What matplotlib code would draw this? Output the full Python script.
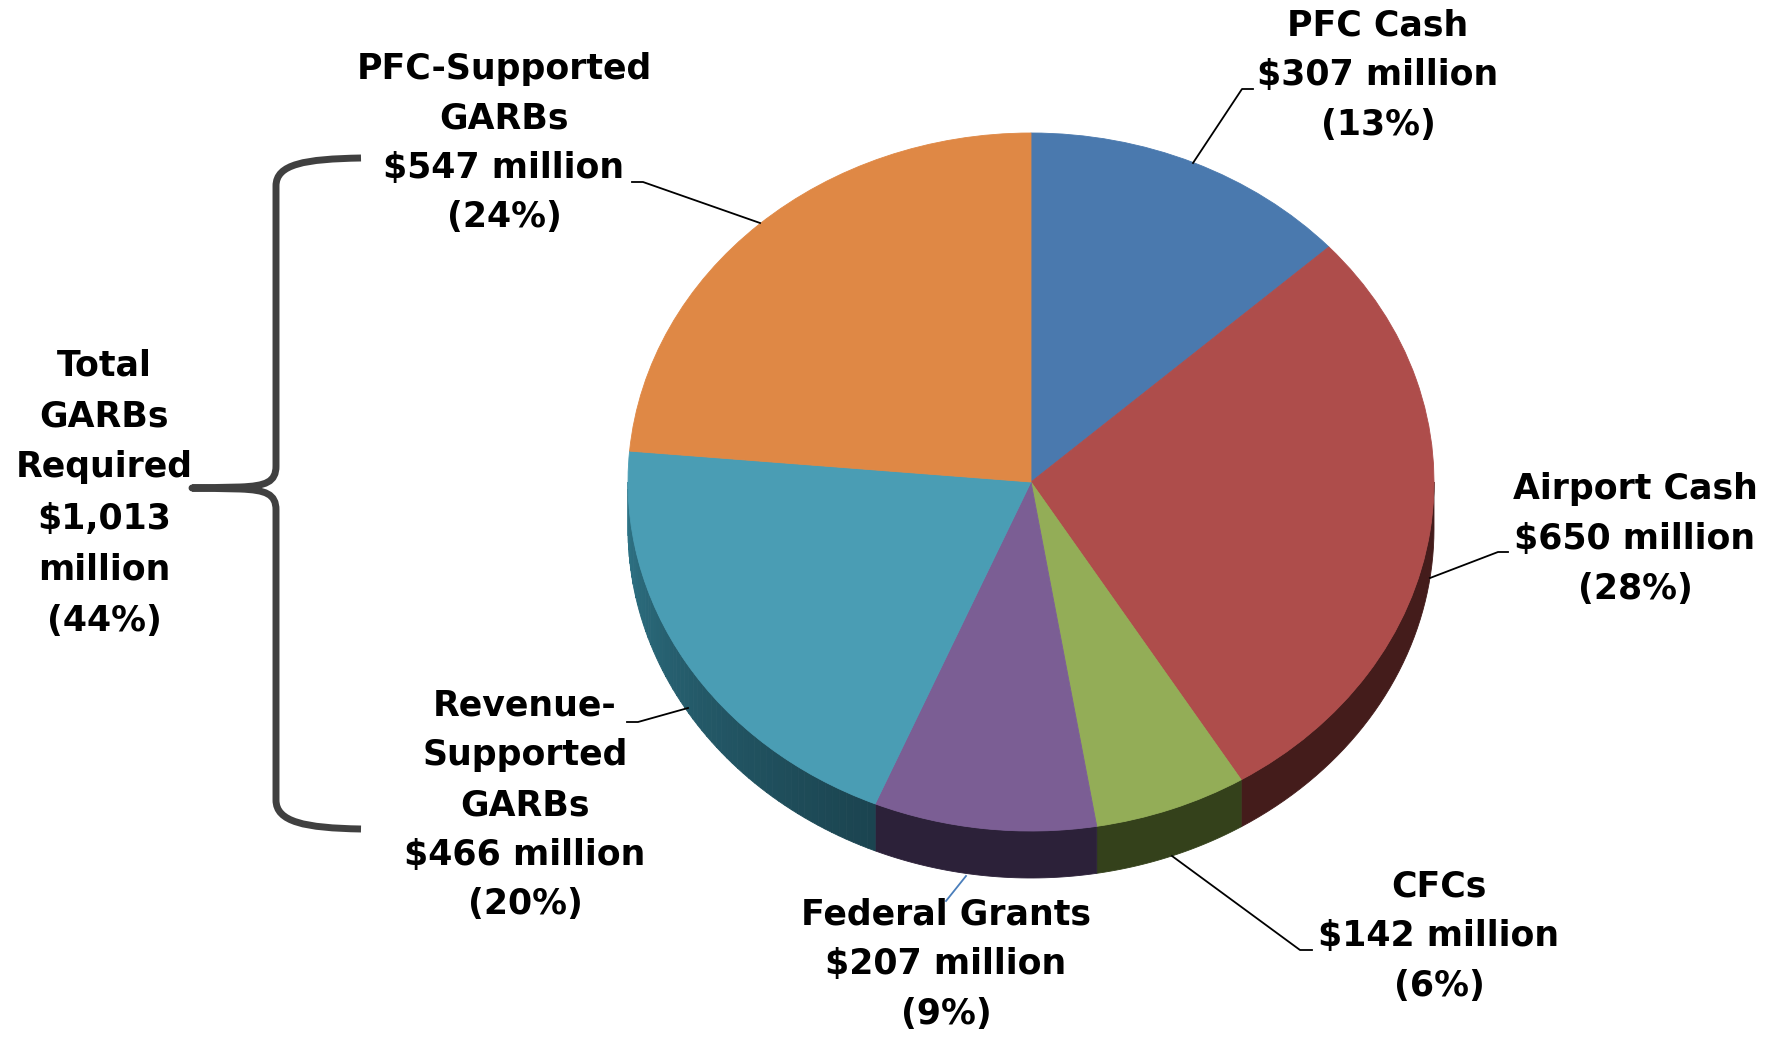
import numpy as np
import matplotlib.pyplot as plt
from matplotlib.patches import Polygon, PathPatch
from matplotlib.path import Path
from matplotlib.colors import to_rgb

# data
names = ['PFC Cash', 'Airport Cash', 'CFCs', 'Federal Grants',
         'Revenue-\nSupported\nGARBs', 'PFC-Supported\nGARBs']
values = [307, 650, 142, 207, 466, 547]
top_colors = ['#4a79ae', '#ae4d4b', '#93ad57', '#7b5e94', '#4a9db4', '#df8845']
side_colors = ['#2b4566', '#441c1b', '#34411b', '#2c2139', ('#30788b', '#1b4450'), '#7a4522']
garb_idx = [4, 5]

total = sum(values)
pcts = [round(100 * v / total) for v in values]
garb_total = sum(values[i] for i in garb_idx)
garb_pct = round(100 * garb_total / total)

W, H = 1773, 1037
cx, cy, rx, ry, depth = 1031, 482, 403, 349, 47
dd = depth / ry

fig = plt.figure(figsize=(W / 100, H / 100), dpi=100)
pax = fig.add_axes([0, 0, 1, 1])
wedges, _ = pax.pie(values, startangle=90, counterclock=False, colors=top_colors,
                    wedgeprops=dict(linewidth=0.6))
for w, c in zip(wedges, top_colors):
    w.set_edgecolor(c)
    w.set_zorder(2)
pax.set_aspect('auto')
pax.set_xlim(-cx / rx, (W - cx) / rx)
pax.set_ylim(-(H - cy) / ry, cy / ry)
pax.axis('off')


def side_piece(a, b, color):
    ts = np.radians(np.linspace(a, b, 40))
    up = np.column_stack([np.cos(ts), np.sin(ts)])
    lo = np.column_stack([np.cos(ts), np.sin(ts) - dd])[::-1]
    pax.add_patch(Polygon(np.vstack([up, lo]), closed=True, facecolor=color,
                          edgecolor=color, linewidth=0.6, zorder=1))


# visible side walls (lower half of the ellipse)
for w, sc in zip(wedges, side_colors):
    t1, t2 = w.theta1, w.theta2
    for k in (-1, 0, 1):
        a = max(t1, 180 + 360 * k)
        b = min(t2, 360 + 360 * k)
        if b <= a:
            continue
        if isinstance(sc, tuple):
            c0, c1 = np.array(to_rgb(sc[0])), np.array(to_rgb(sc[1]))
            edges = np.linspace(a, b, 60)
            for i in range(len(edges) - 1):
                f = i / (len(edges) - 2)
                side_piece(edges[i], edges[i + 1], tuple(c0 + (c1 - c0) * f ** 0.8))
        else:
            side_piece(a, b, sc)

# overlay in pixel coordinates for labels, leaders and brace
ax = fig.add_axes([0, 0, 1, 1], label='overlay')
ax.set_xlim(0, W)
ax.set_ylim(H, 0)
ax.axis('off')
ax.patch.set_alpha(0)

label_pos = [(1378, 75), (1635, 539), (1439, 936), (946, 964), (525, 805), (504, 143)]
font = dict(family='DejaVu Sans', weight='bold', size=25, ha='center', va='center',
            linespacing=1.58)
for name, v, p, (x, y) in zip(names, values, pcts, label_pos):
    ax.text(x, y, f"{name}\n\\${v} million\n({p}%)", **font)

ax.text(104, 493, f"Total\nGARBs\nRequired\n\\${garb_total:,}\nmillion\n({garb_pct}%)",
        **dict(font, linespacing=1.63))

leaders = [
    [(1253, 89), (1242, 89), (1193, 163)],
    [(1508, 552), (1498, 552), (1430, 578)],
    [(1312, 950), (1300, 950), (1172, 856)],
    [(946, 901), (966, 876)],
    [(627, 722), (638, 722), (688, 708)],
    [(632, 182), (643, 182), (760, 223)],
]
leader_colors = ['black', 'black', 'black', '#4a7ebb', 'black', 'black']
for pts, c in zip(leaders, leader_colors):
    xs, ys = zip(*pts)
    ax.plot(xs, ys, color=c, lw=1.3)

# curly brace around the two GARB slices
verts = [(361, 158), (305, 159), (276, 164), (276, 186),
         (276, 466),
         (276, 482), (266, 486), (240, 487),
         (192, 488),
         (240, 489),
         (266, 490), (276, 494), (276, 510),
         (276, 800),
         (276, 822), (305, 828), (361, 829)]
codes = [Path.MOVETO, Path.CURVE4, Path.CURVE4, Path.CURVE4,
         Path.LINETO,
         Path.CURVE4, Path.CURVE4, Path.CURVE4,
         Path.LINETO,
         Path.LINETO,
         Path.CURVE4, Path.CURVE4, Path.CURVE4,
         Path.LINETO,
         Path.CURVE4, Path.CURVE4, Path.CURVE4]
ax.add_patch(PathPatch(Path(verts, codes), facecolor='none', edgecolor='#404040',
                       lw=5, capstyle='butt', joinstyle='round'))

fig.savefig('out.png', dpi=100)
